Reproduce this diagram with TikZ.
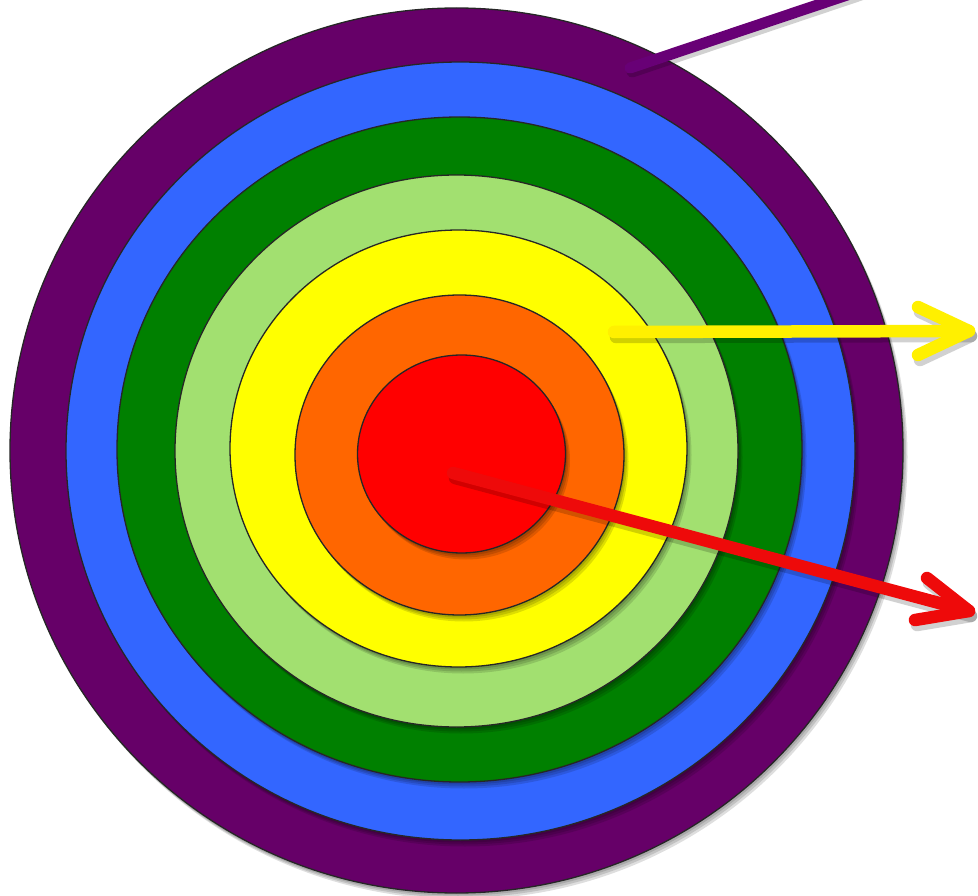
\documentclass[tikz,border=0pt]{standalone}
\usepackage{tikz}
\definecolor{ringpurple}{RGB}{102,0,104}
\definecolor{ringblue}{RGB}{51,102,255}
\definecolor{ringgreen}{RGB}{0,128,0}
\definecolor{ringlight}{RGB}{162,224,112}
\definecolor{ringyellow}{RGB}{255,255,0}
\definecolor{ringorange}{RGB}{255,102,0}
\definecolor{ringred}{RGB}{255,0,0}
\definecolor{arrowpurple}{RGB}{104,0,118}
\definecolor{arrowyellow}{RGB}{255,240,0}
\definecolor{arrowred}{RGB}{238,10,10}
\tikzset{
  ringedge/.style={draw=black!85,line width=1.3pt},
  shadowlayer/.style={fill=black,opacity=0.13},
  pointer/.style={line width=12.5pt,line cap=round,line join=round},
  pointershadow/.style={pointer,draw=black,opacity=0.18}
}
\begin{document}
\begin{tikzpicture}[x=1pt,y=-1pt]
\fill[white] (0,0) rectangle (978,896);
\useasboundingbox (0,0) rectangle (978,896);
\begin{scope}
\clip (0,0) rectangle (978,896);
% rings, outer to inner, each with a soft drop shadow
\foreach \cx/\cy/\rx/\ry/\col in {
  456.5/450.5/446.5/442.5/ringpurple,
  460.5/451/394.5/389/ringblue,
  459.5/449.5/342.5/332.5/ringgreen,
  456.5/451/281.5/276/ringlight,
  458.5/448.5/228.5/218.5/ringyellow,
  459.5/455/164.5/160/ringorange,
  461.5/454/104/99/ringred}{
  \fill[shadowlayer] (\cx+1.5,\cy+2.5) ellipse [x radius=\rx pt, y radius=\ry pt];
  \fill[shadowlayer] (\cx+3,\cy+4.5) ellipse [x radius=\rx pt, y radius=\ry pt];
  \fill[shadowlayer] (\cx+4.5,\cy+6.5) ellipse [x radius=\rx pt, y radius=\ry pt];
  \filldraw[ringedge,fill=\col] (\cx,\cy) ellipse [x radius=\rx pt, y radius=\ry pt];
}
% purple pointer
\coordinate (pstart) at (630,68);
\coordinate (pend) at (868,-12);
\draw[pointershadow,line width=11pt] ([shift={(2,4)}]pstart) -- ([shift={(2,4)}]pend);
\draw[pointer,line width=11pt,draw=arrowpurple] (pstart) -- (pend);
% yellow arrow
\coordinate (ystart) at (614,332);
\coordinate (ytip) at (969,331);
\coordinate (ya) at (918,307);
\coordinate (yb) at (918,355);
\draw[pointershadow] ([shift={(2,5)}]ystart) -- ([shift={(2,5)}]ytip);
\draw[pointershadow] ([shift={(2,5)}]ya) -- ([shift={(2,5)}]ytip) -- ([shift={(2,5)}]yb);
\draw[pointer,draw=arrowyellow] (ystart) -- (ytip);
\draw[pointer,draw=arrowyellow] (ya) -- (ytip) -- (yb);
% red arrow
\coordinate (rstart) at (453,473);
\coordinate (rtip) at (969,611);
\coordinate (ra) at (927,578);
\coordinate (rb) at (915,620);
\draw[pointershadow] ([shift={(2,5)}]rstart) -- ([shift={(2,5)}]rtip);
\draw[pointershadow] ([shift={(2,5)}]ra) -- ([shift={(2,5)}]rtip) -- ([shift={(2,5)}]rb);
\draw[pointer,draw=arrowred] (rstart) -- (rtip);
\draw[pointer,draw=arrowred] (ra) -- (rtip) -- (rb);
\end{scope}
\end{tikzpicture}
\end{document}
